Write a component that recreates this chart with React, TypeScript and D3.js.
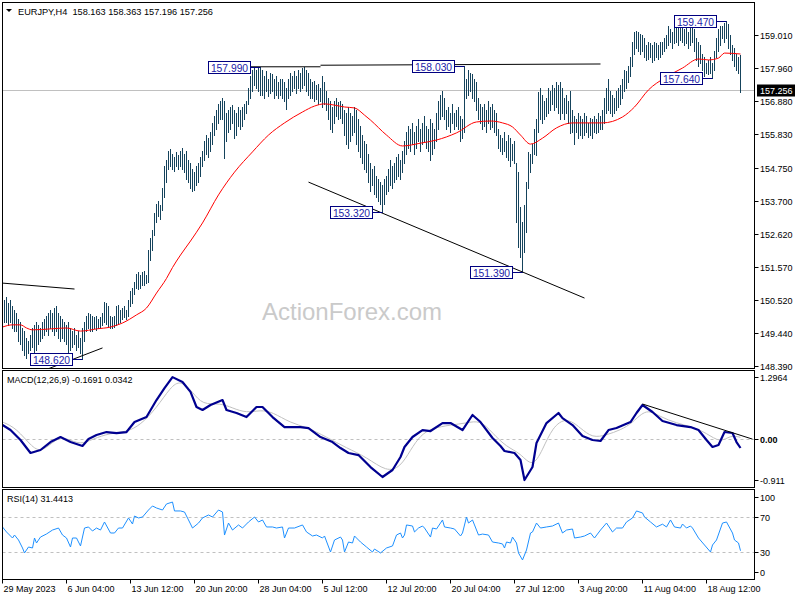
import React, { useEffect } from 'react';
import * as d3 from 'd3';

// ---------- DATA ----------
const header = 'EURJPY,H4  158.163 158.363 157.196 157.256';
const macdTitle = 'MACD(12,26,9) -0.1691 0.0342';
const rsiTitle = 'RSI(14) 31.4413';
const watermark = 'ActionForex.com';
const lastPrice = 157.256;

const barHighs = [
  150.3, 150.5, 150.6, 150.4, 150.5, 150.3, 150.2, 150.1, 149.9, 149.8,
  149.6, 149.5, 149.3, 149.2, 149.4, 149.6, 149.7, 149.8, 149.7, 149.6,
  149.8, 149.9, 150.0, 150.1, 150.2, 150.1, 150.25, 150.3, 150.1, 150.0,
  149.9, 149.8, 149.7, 149.8, 149.6, 149.5, 149.6, 149.4, 149.5, 149.3,
  149.6, 149.8, 150.0, 150.1, 150.05, 150.0, 149.95, 150.0, 149.9, 149.95,
  150.1, 150.45, 150.4, 150.3, 150.0, 149.95, 150.0, 150.3, 150.35, 150.2,
  150.25, 150.3, 150.2, 150.5, 150.8, 150.9, 151.1, 151.35, 151.4, 151.3,
  151.4, 151.45, 151.3, 152.1, 152.5, 152.75, 153.3, 153.6, 153.7, 153.55,
  154.1, 154.8, 155.0, 155.3, 155.35, 155.2, 155.1, 155.25, 155.15, 155.3,
  155.4, 155.2, 155.3, 155.0, 154.9, 154.7, 154.6, 154.8, 154.9, 155.1,
  155.3, 155.6, 155.8, 155.7, 155.9, 156.2, 156.4, 156.6, 156.8, 156.9,
  157.0, 156.9, 156.5, 156.6, 156.7, 156.75, 156.6, 156.5, 156.7, 156.6,
  156.7, 156.8, 156.9, 157.3, 157.7, 157.9, 157.95, 157.9, 157.95, 157.99,
  157.9, 157.7, 157.85, 157.6, 157.8, 157.75, 157.6, 157.7, 157.5, 157.6,
  157.6, 157.5, 157.3, 157.6, 157.8, 157.7, 157.85, 157.7, 157.9, 157.8,
  157.95, 157.98, 157.9, 157.8, 157.6, 157.5, 157.55, 157.4, 157.45, 157.3,
  157.7, 157.5, 157.2, 157.0, 156.9, 156.7, 156.9, 157.0, 156.85, 156.9,
  156.8, 156.6, 156.5, 156.7, 156.5, 156.4, 156.7, 156.6, 156.3, 156.1,
  155.8, 155.6, 155.5, 155.2, 154.9, 154.7, 154.8, 154.5, 154.4, 154.3,
  154.2, 154.4, 154.5, 154.7, 155.0, 154.8, 154.9, 155.1, 155.2, 155.0,
  155.3, 155.6, 155.9, 156.1, 156.0, 156.2, 155.9, 156.1, 156.3, 156.0,
  156.2, 156.4, 156.1, 156.0, 156.3, 156.2, 156.0, 156.5, 156.9, 157.1,
  157.2, 157.0, 156.6, 156.7, 156.5, 156.8, 156.5, 156.6, 156.7, 156.4,
  156.3, 158.03, 157.6, 157.9, 157.8, 157.75, 157.6, 157.5, 157.0, 156.8,
  156.7, 156.8, 156.6, 156.9, 156.7, 156.8, 156.6, 156.5, 156.0, 155.8,
  155.7, 155.9, 155.6, 155.8, 155.7, 155.5, 155.6, 154.9, 154.6, 153.5,
  153.0, 153.56, 154.3, 155.26, 155.2, 155.5, 156.0, 156.3, 157.18, 157.3,
  157.1, 156.9, 157.0, 157.3, 157.2, 157.4, 157.3, 157.5, 157.4, 157.5,
  157.3, 157.0, 157.1, 156.9, 157.2, 156.6, 156.4, 156.3, 156.5, 156.4,
  156.3, 156.5, 156.4, 156.2, 156.35, 156.3, 156.4, 156.3, 156.5, 156.4,
  156.6, 157.0, 157.3, 157.6, 157.2, 157.1, 157.0, 157.2, 157.3, 157.4,
  157.6, 157.9, 157.85, 158.0, 158.3, 158.8, 159.1, 159.15, 159.1, 159.05,
  159.0, 158.9, 158.7, 158.8, 158.75, 158.7, 158.8, 158.75, 158.7, 158.8,
  158.8, 158.9, 159.0, 159.3, 159.2, 159.1, 159.3, 159.25, 159.35, 159.3,
  159.35, 159.2, 159.3, 159.1, 159.25, 159.3, 159.2, 158.9, 158.8, 158.7,
  158.4, 158.3, 158.1, 158.2, 158.3, 158.1, 158.5, 158.9, 159.2, 159.3,
  159.3, 159.4, 159.47, 159.35, 159.0, 158.7, 158.6, 158.4, 158.3, 158.363,
];
const barLows = [
  149.9, 149.8, 149.8, 149.7, 149.8, 149.6, 149.5, 149.5, 149.2, 149.1,
  148.9, 148.75, 148.65, 148.8, 148.9, 149.0, 148.8, 148.9, 149.1, 149.2,
  149.3, 149.4, 149.5, 149.4, 149.6, 149.5, 149.4, 149.5, 149.3, 149.2,
  149.3, 149.2, 149.1, 148.85, 148.9, 149.0, 149.1, 148.9, 149.0, 148.8,
  148.62, 149.2, 149.5, 149.6, 149.5, 149.5, 149.6, 149.55, 149.6, 149.6,
  149.7, 149.8, 149.75, 149.65, 149.6, 149.6, 149.65, 149.7, 149.75, 149.8,
  149.9, 149.95, 149.9, 150.0, 150.3, 150.4, 150.7, 150.9, 150.85, 150.9,
  151.0, 151.0, 151.05, 151.1, 151.8, 152.1, 152.6, 153.0, 153.2, 153.1,
  153.4, 153.8, 154.3, 154.7, 154.8, 154.7, 154.65, 154.8, 154.7, 154.8,
  154.7, 154.6, 154.4, 154.3, 154.1, 154.0, 154.05, 154.2, 154.3, 154.5,
  154.8, 155.0, 155.2, 155.1, 155.3, 155.5, 155.8, 156.0, 156.2, 156.3,
  156.3, 155.05, 155.6, 155.9, 156.0, 156.2, 155.7, 155.8, 156.1, 156.0,
  156.1, 156.3, 156.5, 156.8, 157.0, 157.2, 157.4, 157.3, 157.2, 157.1,
  157.1, 157.0, 157.2, 157.05, 157.15, 157.2, 157.0, 157.1, 157.0, 157.1,
  157.0, 156.9, 156.65, 157.0, 157.1, 157.2, 157.3, 157.15, 157.3, 157.2,
  157.3, 157.4, 157.2, 157.1, 157.0, 157.0, 156.9, 156.95, 156.8, 156.9,
  156.7, 156.8, 156.6, 156.3, 156.0, 155.9, 156.2, 156.4, 156.3, 156.35,
  156.2, 155.8, 155.5, 155.4, 155.6, 155.8, 155.9, 155.5, 155.3, 155.1,
  154.9, 154.7, 154.6, 154.3, 154.0, 154.2, 153.9, 153.8, 153.7, 153.6,
  153.32, 153.6, 153.9, 154.0, 154.2, 154.1, 154.3, 154.4, 154.5, 154.4,
  154.6, 154.9, 155.2, 155.4, 155.3, 155.5, 155.2, 155.4, 155.6, 155.3,
  155.5, 155.6, 155.4, 155.3, 155.0, 155.2, 155.4, 155.6, 156.0, 156.3,
  156.4, 156.3, 156.0, 156.1, 155.9, 156.2, 156.0, 156.1, 156.0, 155.6,
  155.7, 155.9, 157.0, 157.1, 157.2, 157.0, 156.9, 156.6, 156.3, 156.2,
  156.0, 156.1, 155.9, 156.2, 156.0, 156.05, 155.9, 155.8, 155.4, 155.3,
  155.2, 155.3, 155.1, 155.0, 154.8, 155.0, 154.9, 153.0, 152.2, 151.9,
  151.39, 152.05, 152.7, 154.1, 154.6, 154.9, 155.2, 155.16, 155.9, 156.3,
  156.2, 156.3, 156.4, 156.5, 156.6, 156.8, 156.6, 156.7, 156.5, 156.3,
  156.5, 156.3, 156.5, 156.2, 155.85, 155.9, 155.5, 155.9, 155.7, 155.8,
  155.7, 155.8, 155.9, 155.75, 155.8, 155.7, 155.9, 155.85, 155.9, 156.0,
  156.0, 156.2, 156.5, 156.6, 156.5, 156.4, 156.5, 156.6, 156.7, 156.8,
  157.0, 157.2, 157.3, 157.5, 157.7, 158.0, 158.4, 158.6, 158.5, 158.4,
  158.5, 158.3, 158.2, 158.25, 158.3, 158.15, 158.2, 158.3, 158.25, 158.3,
  158.4, 158.5, 158.6, 158.7, 158.8, 158.6, 158.75, 158.8, 158.7, 158.85,
  158.8, 158.7, 158.75, 158.6, 158.7, 158.8, 158.5, 158.2, 158.0, 158.1,
  157.9, 157.7, 157.8, 157.75, 157.8, 157.64, 157.9, 158.3, 158.5, 158.7,
  158.9, 158.8, 158.9, 158.6, 158.4, 158.2, 158.0, 157.9, 157.8, 157.196,
];

const maIdx = [0, 5, 9, 12, 15, 24, 32, 39, 47, 54, 60, 67, 72, 77, 82, 85, 89, 94, 100, 108, 116, 125, 133, 141, 150, 156, 161, 166, 171, 176, 181, 184, 192, 200, 209, 217, 227, 237, 244, 250, 255, 259, 264, 270, 277, 285, 300, 310, 316, 323, 331, 340, 348, 353, 358, 361, 369];
const maVal = [149.64, 149.71, 149.71, 149.61, 149.55, 149.58, 149.61, 149.51, 149.58, 149.64, 149.77, 150.03, 150.25, 150.73, 151.2, 151.55, 151.95, 152.4, 152.98, 153.88, 154.61, 155.26, 155.8, 156.19, 156.54, 156.73, 156.8, 156.76, 156.7, 156.67, 156.44, 156.28, 155.8, 155.45, 155.54, 155.64, 155.87, 156.22, 156.25, 156.19, 156.06, 155.8, 155.51, 155.7, 156.03, 156.19, 156.19, 156.38, 156.7, 157.25, 157.63, 157.95, 158.24, 158.21, 158.27, 158.43, 158.4];

const macdIdx = [0, 4, 9, 14, 19, 24, 29, 34, 40, 43, 47, 52, 57, 62, 66, 72, 77, 81, 85, 90, 94, 97, 100, 104, 110, 112, 117, 122, 127, 130, 135, 141, 149, 153, 159, 165, 169, 173, 178, 184, 190, 195, 199, 201, 205, 210, 214, 220, 224, 230, 235, 239, 245, 249, 251, 256, 259, 261, 265, 267, 272, 278, 280, 285, 290, 295, 299, 303, 307, 314, 317, 320, 325, 330, 337, 344, 348, 352, 355, 358, 361, 365, 367, 369];
const macdVal = [0.268, 0.173, -0.017, -0.264, -0.207, -0.055, 0.04, -0.055, -0.131, 0.002, 0.078, 0.135, 0.116, 0.135, 0.325, 0.42, 0.744, 0.97, 1.18, 1.087, 0.9, 0.611, 0.554, 0.649, 0.744, 0.554, 0.497, 0.42, 0.611, 0.611, 0.42, 0.23, 0.23, 0.211, 0.04, -0.055, -0.169, -0.264, -0.303, -0.531, -0.721, -0.588, -0.34, -0.15, 0.04, 0.173, 0.154, 0.306, 0.306, 0.173, 0.459, 0.325, 0.021, -0.131, -0.226, -0.264, -0.398, -0.778, -0.531, -0.074, 0.306, 0.497, 0.4, 0.268, 0.059, -0.017, -0.036, 0.173, 0.211, 0.325, 0.497, 0.649, 0.516, 0.344, 0.268, 0.23, 0.173, -0.017, -0.15, -0.112, 0.135, 0.116, -0.055, -0.1691];

const signalIdx = [0, 7, 15, 20, 27, 32, 39, 45, 54, 62, 69, 77, 84, 89, 95, 100, 109, 115, 122, 129, 135, 144, 152, 162, 172, 182, 192, 199, 204, 209, 215, 224, 232, 239, 245, 252, 259, 265, 270, 275, 282, 289, 295, 302, 309, 315, 322, 329, 337, 345, 352, 359, 364, 369];
const signalVal = [0.325, 0.211, -0.169, -0.245, 0.021, 0.021, -0.112, 0.002, 0.116, 0.135, 0.268, 0.592, 0.99, 1.125, 0.9, 0.649, 0.687, 0.592, 0.497, 0.554, 0.516, 0.306, 0.23, 0.04, -0.169, -0.34, -0.626, -0.531, -0.207, 0.078, 0.211, 0.268, 0.306, 0.363, 0.116, -0.15, -0.264, -0.55, -0.207, 0.23, 0.42, 0.211, 0.021, 0.078, 0.173, 0.306, 0.592, 0.42, 0.306, 0.23, 0.116, -0.074, 0.078, 0.0342];

const rsiIdx = [0, 2, 5, 6, 8, 10, 11, 13, 15, 16, 17, 19, 22, 25, 28, 30, 32, 34, 35, 37, 39, 41, 43, 45, 47, 49, 51, 54, 56, 58, 60, 63, 65, 66, 68, 70, 73, 75, 77, 80, 82, 85, 86, 89, 91, 93, 95, 98, 100, 103, 105, 108, 110, 111, 113, 115, 118, 120, 123, 126, 128, 130, 132, 135, 137, 140, 141, 143, 146, 150, 152, 155, 157, 160, 161, 164, 166, 169, 170, 171, 173, 175, 176, 179, 182, 185, 186, 189, 192, 195, 197, 199, 200, 201, 202, 205, 206, 208, 210, 211, 214, 215, 217, 220, 221, 224, 226, 229, 230, 232, 233, 235, 236, 238, 240, 243, 245, 248, 250, 251, 252, 254, 255, 257, 258, 260, 262, 264, 265, 267, 269, 272, 275, 278, 280, 282, 285, 286, 289, 291, 294, 296, 299, 302, 305, 307, 310, 312, 315, 317, 320, 321, 324, 327, 330, 332, 334, 336, 339, 340, 342, 344, 345, 348, 351, 354, 355, 357, 360, 362, 365, 366, 368, 369];
const rsiVal = [58.6, 52.9, 46, 49.4, 43.7, 34.6, 28.9, 35.7, 34.6, 46, 40.3, 47.1, 50.6, 55.1, 57.4, 49.4, 46, 35.7, 46, 46, 36.9, 57.4, 58.6, 54, 57.4, 55.1, 64.3, 51.7, 51.7, 57.4, 57.4, 68.9, 62, 71.1, 68.9, 70, 78, 82.6, 80.3, 78, 84.9, 87.1, 76.9, 76.9, 75.7, 66.6, 57.4, 63.1, 68.9, 72.3, 70, 78, 75.7, 49.4, 63.1, 55.1, 60.9, 57.4, 64.3, 70, 64.3, 66.6, 58.6, 58.6, 57.4, 58.6, 46, 57.4, 57.4, 60.9, 52.9, 48.3, 49.4, 46, 48.3, 30, 43.7, 47.1, 43.7, 30, 41.4, 40.3, 48.3, 41.4, 35.7, 30, 33.4, 28.9, 34.6, 36.9, 49.4, 51.7, 46, 49.4, 60.9, 59.7, 52.9, 57.4, 59.7, 57.4, 47.1, 57.4, 56.3, 66.6, 58.6, 57.4, 56.3, 48.3, 51.7, 70, 63.1, 66.6, 60.9, 49.4, 50.5, 49.4, 41.4, 40.3, 39.2, 34.6, 41.4, 40.3, 47.1, 40.3, 28.9, 20.9, 32.3, 51.7, 52.9, 63.1, 57.4, 58.6, 59.7, 63.1, 51.7, 55.1, 56.3, 46, 47.1, 48.3, 51.7, 46, 55.1, 63.1, 52.9, 57.4, 57.4, 64.3, 68.9, 76.9, 74.6, 70, 64.3, 58.6, 61.8, 58.6, 66.6, 58.6, 57.4, 62, 57.4, 59.7, 57.4, 46, 38, 30, 38, 43.7, 63.1, 64.3, 51.7, 43.7, 40.3, 31.44];

const priceTicks = [159.010, 157.960, 156.880, 155.830, 154.750, 153.700, 152.620, 151.570, 150.520, 149.440, 148.390];
const macdTicks = [1.2964, 0.0, -0.911];
const macdTickLabels = ['1.2964', '0.00', '-0.911'];
const rsiTicks = [100, 70, 30, 0];
const rsiLevels = [70, 30];
const timeLabels = ['29 May 2023', '6 Jun 04:00', '13 Jun 12:00', '20 Jun 20:00', '28 Jun 04:00', '5 Jul 12:00', '12 Jul 20:00', '20 Jul 04:00', '27 Jul 12:00', '3 Aug 20:00', '11 Aug 04:00', '18 Aug 12:00'];
const timeLabelIdx = [0, 32, 64, 96, 128, 160, 192, 224, 256, 288, 320, 352];

const annPrice = [148.62, 157.99, 153.32, 158.03, 151.39, 157.64, 159.47];
const annIdx = [40, 129, 190, 231, 260, 355, 362];

// trendlines: start/end bar index and price
const trendStartIdx = [0, 20, 124, 159, 153];
const trendStartPrice = [151.05, 148.23, 157.99, 158.04, 154.29];
const trendEndIdx = [36, 50, 159, 299, 291];
const trendEndPrice = [150.86, 148.97, 157.99, 158.08, 150.57];
const macdTrendIdx = [320, 375];
const macdTrendVal = [0.668, 0.0];

// ---------- LAYOUT ----------
const W = 800, H = 600;
const L = 2.5, R = 754.5;
const mainTop = 2.5, mainBot = 368.5;
const macdTop = 370.5, macdBot = 487.5;
const rsiTop = 489.5, rsiBot = 579.5;
const FONT = '"Liberation Sans", Arial, sans-serif';
const BAR = '#15435c';
const NAVY = '#000080';

export default function App() {
  useEffect(() => {
    document.body.style.margin = '0';
  }, []);

  const x = d3.scaleLinear().domain([0, 376]).range([2.5, 754.5]);
  const yP = d3.scaleLinear().domain([148.39, 159.01]).range([366, 35]);
  const yM = d3.scaleLinear().domain([-0.911, 1.2964]).range([487, 371]);
  const yR = d3.scaleLinear().domain([0, 100]).range([578.25, 490.75]);

  const maLine = d3.line<number>().x((_, i) => x(maIdx[i])).y((d) => yP(d)).curve(d3.curveMonotoneX);
  const macdLine = d3.line<number>().x((_, i) => x(macdIdx[i])).y((d) => yM(d));
  const sigLine = d3.line<number>().x((_, i) => x(signalIdx[i])).y((d) => yM(d)).curve(d3.curveBasis);
  const rsiLine = d3.line<number>().x((_, i) => x(rsiIdx[i])).y((d) => yR(d));

  const n = Math.min(barHighs.length, barLows.length);
  const bars = [];
  for (let i = 0; i < n; i++) {
    const y1 = Math.round(yP(barHighs[i]));
    const y2 = Math.round(yP(barLows[i]));
    bars.push(<rect key={i} x={x(i) - 0.5} y={y1} width={1} height={Math.max(1, y2 - y1 + 1)} fill={BAR} />);
  }

  const textStyle = { fontFamily: FONT, fontSize: 9, fill: '#000' };
  const boxW = 42, boxH = 12, boxGap = 10;

  return (
    <svg width={W} height={H} style={{ display: 'block', background: '#fff' }}>
      <defs>
        <clipPath id="mainClip"><rect x={L} y={mainTop} width={R - L} height={mainBot - mainTop} /></clipPath>
        <clipPath id="macdClip"><rect x={L} y={macdTop} width={R - L} height={macdBot - macdTop} /></clipPath>
        <clipPath id="rsiClip"><rect x={L} y={rsiTop} width={R - L} height={rsiBot - rsiTop} /></clipPath>
      </defs>
      <rect x={0} y={0} width={W} height={H} fill="#fff" />

      {/* MAIN PANEL */}
      <g clipPath="url(#mainClip)">
        <text x={352} y={320} textAnchor="middle" style={{ fontFamily: FONT, fontSize: 24, fill: '#cacaca' }}>{watermark}</text>
        <line x1={L} x2={R} y1={Math.round(yP(lastPrice)) + 0.5} y2={Math.round(yP(lastPrice)) + 0.5} stroke="#c0c0c0" strokeWidth={1} />
        <g shapeRendering="crispEdges">{bars}</g>
        <path d={maLine(maVal) || ''} fill="none" stroke="#ff0000" strokeWidth={1} />
        {trendStartIdx.map((s, i) => (
          <line key={i} x1={x(s)} y1={yP(trendStartPrice[i])} x2={x(trendEndIdx[i])} y2={yP(trendEndPrice[i])} stroke="#000" strokeWidth={1} />
        ))}
        {annPrice.map((p, i) => {
          const bx = x(annIdx[i]);
          const by = Math.round(yP(p)) + 0.5;
          return (
            <g key={i}>
              <line x1={bx - boxGap} x2={bx} y1={by} y2={by} stroke={NAVY} strokeWidth={1} />
              <rect x={bx - boxGap - boxW} y={by - boxH / 2} width={boxW} height={boxH} fill="#fff" stroke={NAVY} strokeWidth={1} />
              <text x={bx - boxGap - boxW / 2} y={by + 4} textAnchor="middle" style={{ fontFamily: FONT, fontSize: 10.3, fill: '#2222a8' }}>{p.toFixed(3)}</text>
            </g>
          );
        })}
      </g>
      <path d="M6,9 L12,9 L9,12 Z" fill="#000" />
      <text x={18} y={14.5} style={{ ...textStyle, fontSize: 9.2, whiteSpace: 'pre' }} xmlSpace="preserve">{header}</text>

      {/* MACD PANEL */}
      <g clipPath="url(#macdClip)">
        <line x1={L} x2={R} y1={Math.round(yM(0)) + 0.5} y2={Math.round(yM(0)) + 0.5} stroke="#c0c0c0" strokeDasharray="3,3" />
        <path d={sigLine(signalVal) || ''} fill="none" stroke="#c0c0c0" strokeWidth={1} />
        <path d={macdLine(macdVal) || ''} fill="none" stroke="#000090" strokeWidth={2.2} strokeLinejoin="round" />
        <line x1={x(macdTrendIdx[0])} y1={yM(macdTrendVal[0])} x2={x(macdTrendIdx[1])} y2={yM(macdTrendVal[1])} stroke="#000" strokeWidth={1} />
      </g>
      <text x={7} y={383} style={textStyle}>{macdTitle}</text>

      {/* RSI PANEL */}
      <g clipPath="url(#rsiClip)">
        {rsiLevels.map((lv) => (
          <line key={lv} x1={L} x2={R} y1={Math.round(yR(lv)) + 0.5} y2={Math.round(yR(lv)) + 0.5} stroke="#c0c0c0" strokeDasharray="3,3" />
        ))}
        <path d={rsiLine(rsiVal) || ''} fill="none" stroke="#1e90ff" strokeWidth={1} />
      </g>
      <text x={7} y={502} style={textStyle}>{rsiTitle}</text>

      {/* PANEL BORDERS */}
      <g fill="none" stroke="#000" strokeWidth={1} shapeRendering="crispEdges">
        <rect x={L} y={mainTop} width={R - L} height={mainBot - mainTop} />
        <rect x={L} y={macdTop} width={R - L} height={macdBot - macdTop} />
        <rect x={L} y={rsiTop} width={R - L} height={rsiBot - rsiTop} />
      </g>

      {/* PRICE AXIS */}
      {priceTicks.map((t) => {
        const yy = Math.round(yP(t)) + 0.5;
        return (
          <g key={t}>
            <line x1={R} x2={R + 4} y1={yy} y2={yy} stroke="#000" />
            <text x={760} y={yy + 3.5} style={textStyle}>{t.toFixed(3)}</text>
          </g>
        );
      })}
      <rect x={757} y={Math.round(yP(lastPrice)) - 5.5} width={38} height={12} fill="#000" />
      <text x={760} y={Math.round(yP(lastPrice)) + 4} style={{ ...textStyle, fill: '#fff' }}>{lastPrice.toFixed(3)}</text>

      {/* MACD AXIS */}
      {macdTicks.map((t, i) => {
        const raw = yM(t);
        const yy = Math.min(Math.max(raw, macdTop + 6.5), macdBot - 7.5);
        return (
          <g key={i}>
            <line x1={R} x2={R + 4} y1={Math.round(yy) + 0.5} y2={Math.round(yy) + 0.5} stroke="#000" />
            <text x={760} y={yy + 3.5} style={{ ...textStyle, fontWeight: t === 0 ? 'bold' : 'normal' }}>{macdTickLabels[i]}</text>
          </g>
        );
      })}

      {/* RSI AXIS */}
      {rsiTicks.map((t) => {
        const raw = yR(t);
        const yy = Math.min(Math.max(raw, rsiTop + 7.5), rsiBot - 7.5);
        return (
          <g key={t}>
            <line x1={R} x2={R + 4} y1={Math.round(yy) + 0.5} y2={Math.round(yy) + 0.5} stroke="#000" />
            <text x={760} y={yy + 3.5} style={textStyle}>{String(t)}</text>
          </g>
        );
      })}

      {/* TIME AXIS */}
      {timeLabels.map((lab, i) => {
        const xx = x(timeLabelIdx[i]);
        return (
          <g key={lab}>
            <line x1={xx} x2={xx} y1={rsiBot} y2={rsiBot + 4} stroke="#000" />
            <text x={xx + 1} y={592} style={textStyle}>{lab}</text>
          </g>
        );
      })}
    </svg>
  );
}
